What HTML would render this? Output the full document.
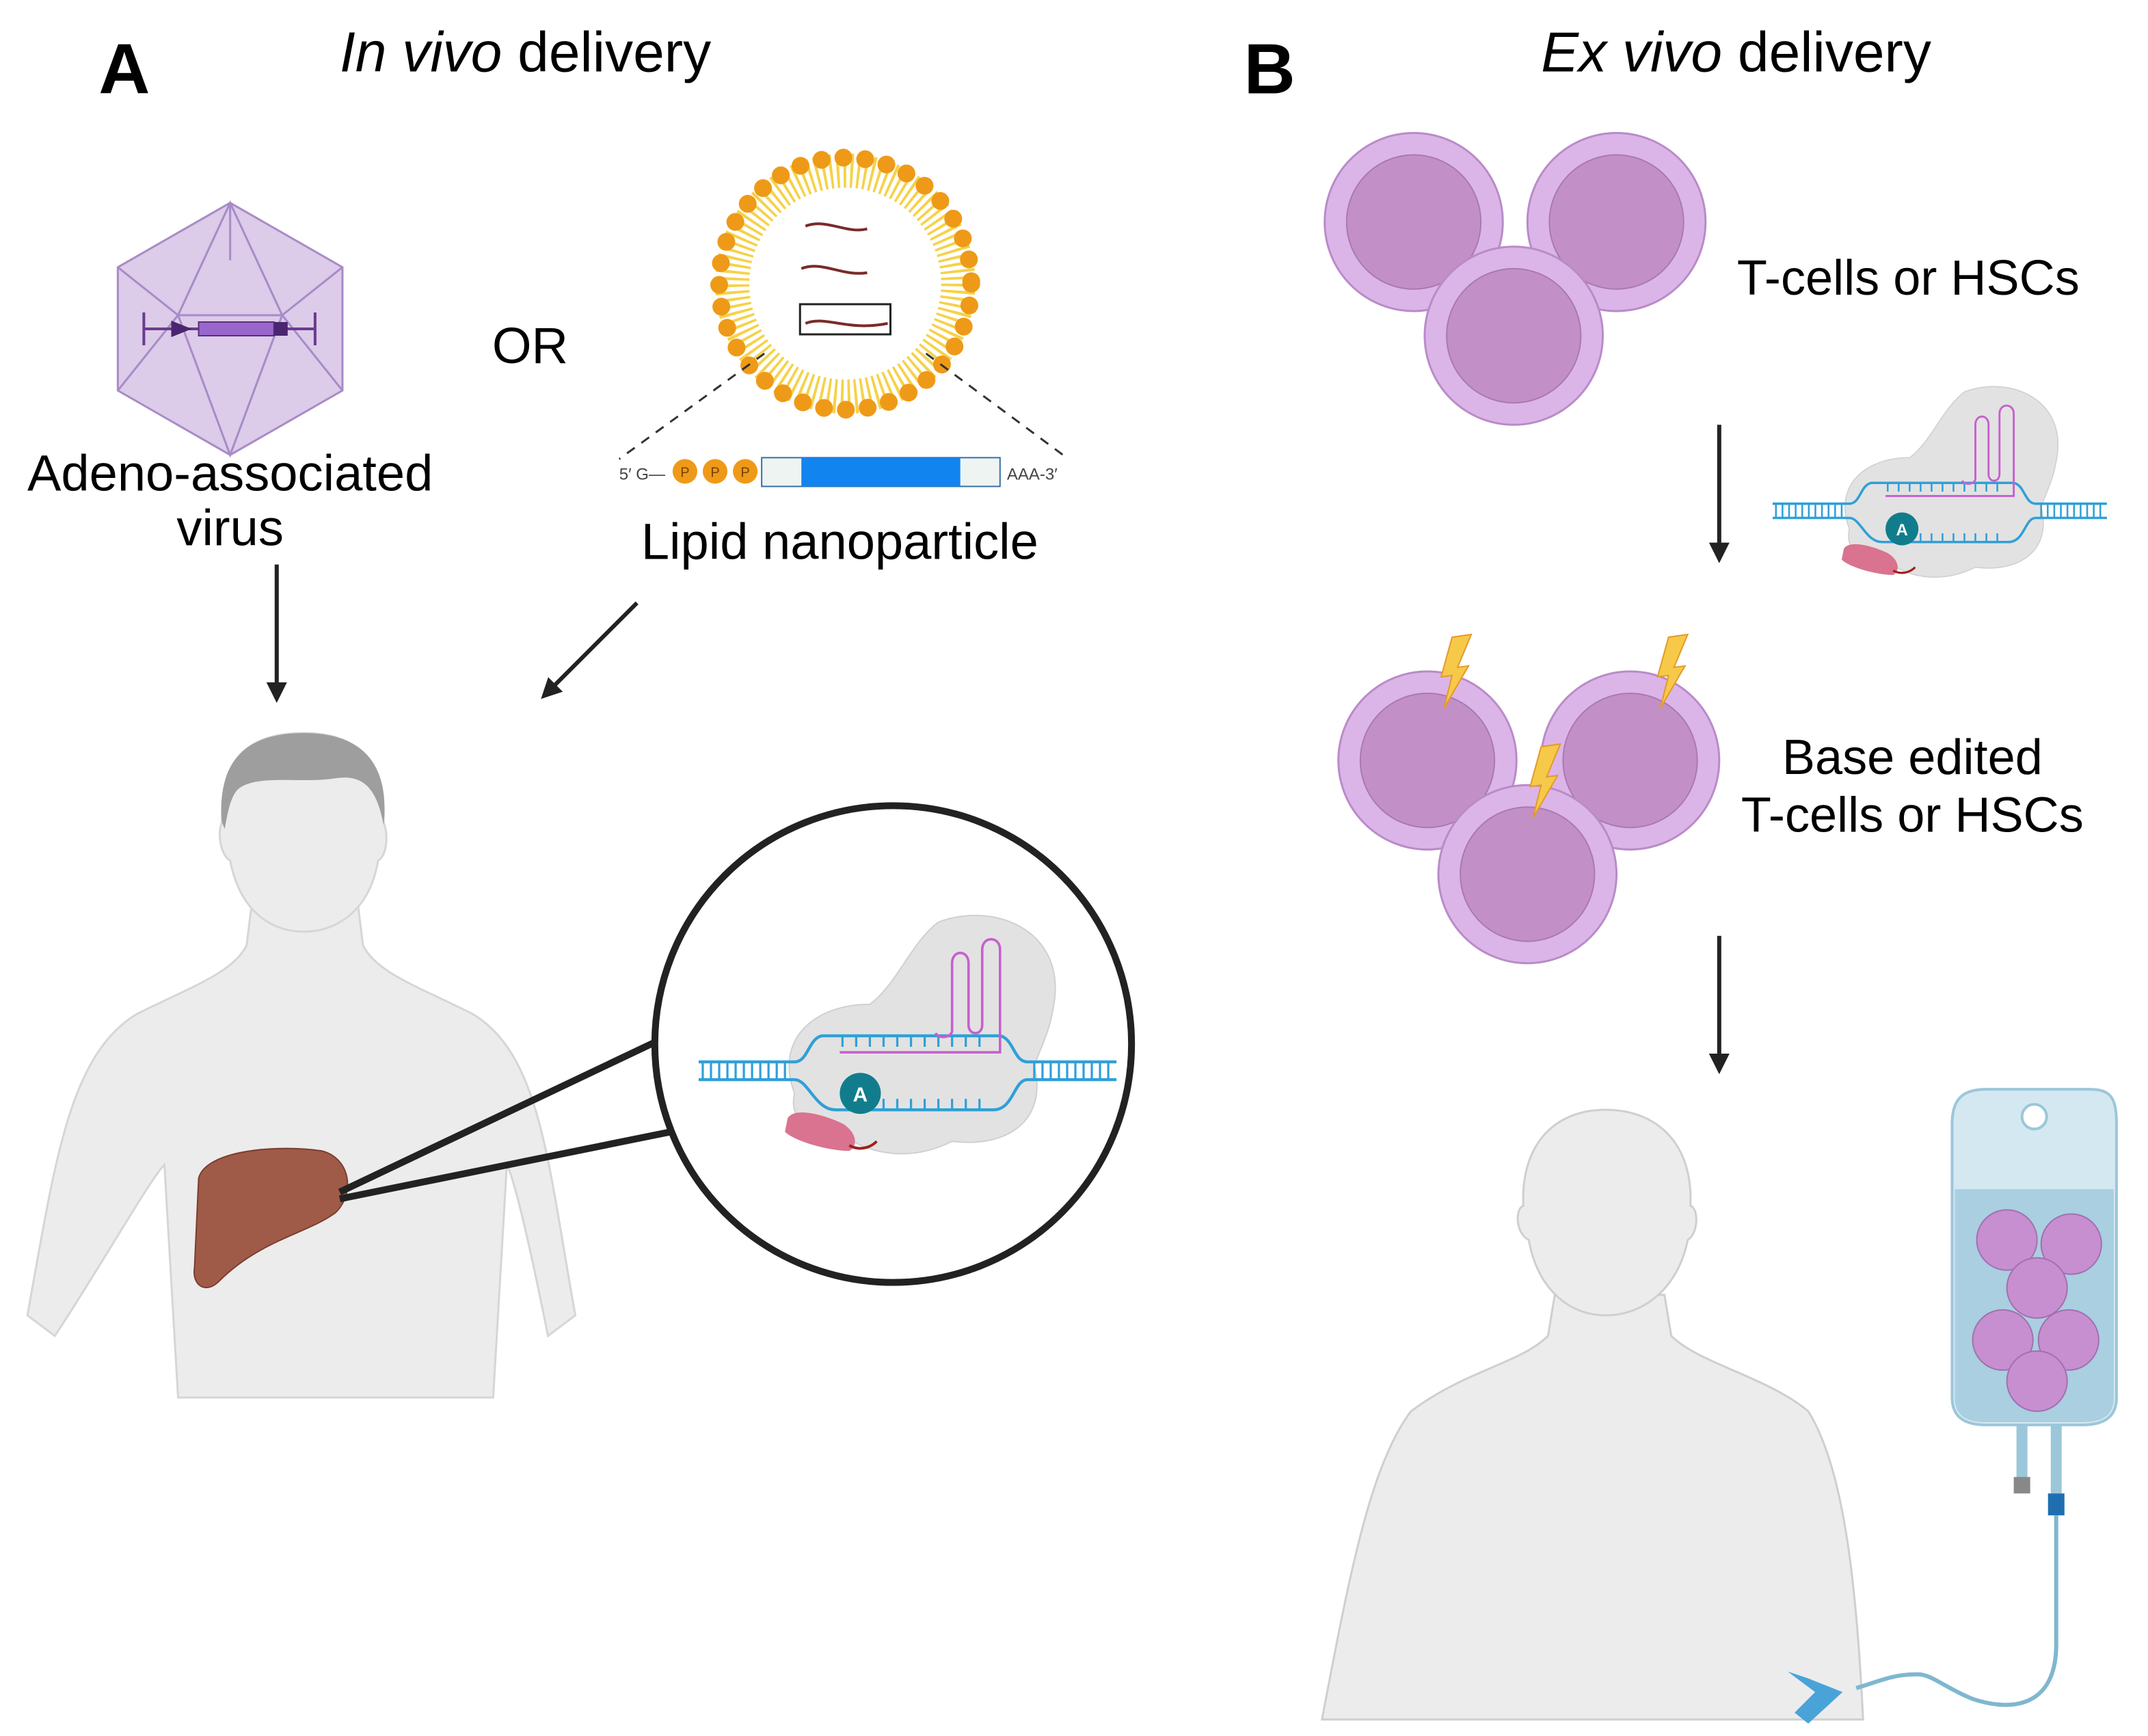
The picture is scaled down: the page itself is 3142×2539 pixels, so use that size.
<!DOCTYPE html>
<html><head><meta charset="utf-8"><style>
html,body{margin:0;padding:0;background:#fff}
svg{display:block}
text{font-family:"Liberation Sans",sans-serif}
</style></head><body>
<svg width="3142" height="2539" viewBox="0 0 1568 1267" xmlns="http://www.w3.org/2000/svg">
<defs>
<marker id="ah" viewBox="0 0 10 10" refX="8" refY="5" markerWidth="5" markerHeight="5" orient="auto"><path d="M0,0L10,5L0,10z" fill="#222"/></marker>
<g id="ed">
 <path d="M-75,20 C-90,-20 -60,-45 -20,-45 C0,-60 10,-90 30,-105 C70,-120 120,-100 115,-50 C112,-25 105,-15 100,0 C110,40 80,60 40,55 C10,70 -20,65 -40,50 C-60,55 -80,40 -75,20Z" fill="#e2e2e2" stroke="#d0d0d0"/>
 <g stroke="#2fa0d8" stroke-width="1.6">
  <path d="M-145,-3 H-75 C-65,-3 -65,-20 -55,-22 H75 C85,-20 85,-3 95,-3 H160" fill="none" stroke-width="2.2"/>
  <path d="M-145,10 H-75 C-65,10 -60,32 -45,32 H70 C85,32 85,10 95,10 H160" fill="none" stroke-width="2.2"/>
  <path d="M-142,-3v13M-136,-3v13M-130,-3v13M-124,-3v13M-118,-3v13M-112,-3v13M-106,-3v13M-100,-3v13M-94,-3v13M-88,-3v13M-82,-3v13M100,-3v13M106,-3v13M112,-3v13M118,-3v13M124,-3v13M130,-3v13M136,-3v13M142,-3v13M148,-3v13M154,-3v13M-40,-22v8M-30,-22v8M-20,-22v8M-10,-22v8M0,-22v8M10,-22v8M20,-22v8M30,-22v8M40,-22v8M50,-22v8M60,-22v8M-20,32v-8M-10,32v-8M0,32v-8M10,32v-8M20,32v-8M30,32v-8M40,32v-8M50,32v-8M60,32v-8"/>
 </g>
 <path d="M-42,-10 H75 V-85 C75,-95 62,-95 62,-85 V-30 C62,-22 52,-22 52,-30 V-75 C52,-85 40,-85 40,-75 V-25 C38,-20 30,-20 28,-24" fill="none" stroke="#c75fcf" stroke-width="1.8"/>
 <circle cx="-27" cy="20" r="15" fill="#117d8c"/>
 <text x="-27" y="26" font-size="15" font-weight="bold" fill="#fff" text-anchor="middle">A</text>
 <path d="M-80,38 C-75,30 -55,35 -40,42 C-30,48 -28,58 -35,62 C-50,62 -75,55 -82,48Z" fill="#d9738f"/>
 <path d="M-35,58 C-28,62 -20,60 -15,55" stroke="#a02020" stroke-width="2" fill="none"/>
</g>
<g id="cell"><circle r="65" fill="#dcb5e8" stroke="#b98bc8" stroke-width="1.5"/><circle r="49" fill="#c290c6" stroke="#a979b3" stroke-width="1"/></g>
<path id="bolt" d="M0,0 L14,-2 L4,22 L12,21 L-6,52 L0,28 L-8,29Z" fill="#f7c948" stroke="#e39a2a" stroke-width="1"/>
</defs>

<text x="72" y="68" font-size="52" font-weight="bold">A</text>
<text x="248" y="52" font-size="41"><tspan font-style="italic">In vivo</tspan> delivery</text>
<text x="908" y="68" font-size="52" font-weight="bold">B</text>
<text x="1125" y="52" font-size="41"><tspan font-style="italic">Ex vivo</tspan> delivery</text>

<g stroke="#a88bc6" stroke-width="1.5" fill="none">
 <polygon points="168,148 250,195 250,285 168,332 86,285 86,195" fill="#dccbe9"/>
 <path d="M168,148 L130,230 L168,332 L206,230Z M86,195 L130,230 L86,285 M250,195 L206,230 L250,285 M130,230 H206 M168,148 V190"/>
</g>
<g stroke="#6a3b8e" stroke-width="2" fill="none"><path d="M105,228v24M105,240H230M230,228v24"/></g>
<rect x="145" y="235" width="55" height="10" fill="#9966cc" stroke="#5a2f7e"/>
<path d="M125,234 L140,240 L125,246Z" fill="#4a2570"/>
<rect x="200" y="235" width="10" height="10" fill="#4a2570"/>
<text x="168" y="358" font-size="37" text-anchor="middle">Adeno-associated</text>
<text x="168" y="398" font-size="37" text-anchor="middle">virus</text>
<text x="387" y="265" font-size="37" text-anchor="middle">OR</text>

<circle cx="617" cy="207" r="82" fill="none" stroke="#f5d24a" stroke-width="26" stroke-dasharray="2 3"/>
<circle cx="617" cy="207" r="70" fill="#fff"/>
<circle cx="617" cy="207" r="92" fill="none" stroke="#ee9a18" stroke-width="13" stroke-dasharray="0 16" stroke-linecap="round"/>
<g stroke="#7a2a2a" stroke-width="2" fill="none">
 <path d="M588,165 c15,-6 30,6 45,2"/><path d="M585,196 c15,-6 30,6 48,3"/><path d="M588,236 c15,-6 30,6 60,0"/>
</g>
<rect x="584" y="222" width="66" height="22" fill="none" stroke="#222" stroke-width="1.5"/>
<path d="M558,258 L452,335 M676,258 L780,335" stroke="#333" stroke-width="1.5" stroke-dasharray="7 6"/>
<text x="452" y="350" font-size="12" fill="#444">5′ G—</text>
<circle cx="500" cy="344" r="9" fill="#ee9a18"/><circle cx="522" cy="344" r="9" fill="#ee9a18"/><circle cx="544" cy="344" r="9" fill="#ee9a18"/>
<text x="500" y="348" font-size="10" text-anchor="middle" fill="#7a4000">P</text><text x="522" y="348" font-size="10" text-anchor="middle" fill="#7a4000">P</text><text x="544" y="348" font-size="10" text-anchor="middle" fill="#7a4000">P</text>
<rect x="556" y="334" width="174" height="21" fill="#edf4f2" stroke="#3a6fa8" stroke-width="1"/>
<rect x="585" y="334" width="116" height="21" fill="#1184ef"/>
<text x="735" y="350" font-size="12" fill="#444">AAA-3′</text>
<text x="613" y="408" font-size="37" text-anchor="middle">Lipid nanoparticle</text>

<line x1="202" y1="412" x2="202" y2="510" stroke="#222" stroke-width="3" marker-end="url(#ah)"/>
<line x1="465" y1="440" x2="397" y2="508" stroke="#222" stroke-width="3" marker-end="url(#ah)"/>

<g fill="#ececec" stroke="#d6d6d6" stroke-width="1.5">
 <path d="M20,960 C40,850 50,770 100,740 C140,720 170,710 180,690 L185,650 L260,650 L265,690 C275,710 305,720 345,740 C395,770 400,850 420,960 L400,975 C385,900 375,860 370,850 L360,1020 H130 L120,850 C110,860 70,930 40,975Z"/>
 <path d="M162,600 C160,550 185,535 222,535 C260,535 282,555 280,600 C284,610 282,625 276,628 C270,665 245,680 222,680 C198,680 175,665 168,628 C162,625 158,610 162,600Z"/>
</g>
<path d="M162,600 C158,550 185,535 222,535 C262,535 285,555 280,602 C275,575 265,565 245,568 C220,572 190,565 175,575 C168,580 166,595 164,605Z" fill="#9e9e9e"/>
<path d="M145,860 C150,840 200,835 235,840 C255,845 260,870 245,885 C225,900 190,905 160,935 C150,945 140,938 142,925Z" fill="#a05a48" stroke="#7a3e30"/>
<line x1="248" y1="870" x2="490" y2="755" stroke="#222" stroke-width="5"/>
<line x1="248" y1="875" x2="490" y2="826" stroke="#222" stroke-width="5"/>
<circle cx="652" cy="762" r="174" fill="#fff" stroke="#222" stroke-width="5"/>
<use href="#ed" transform="translate(655,778)"/>

<use href="#cell" x="1032" y="162"/><use href="#cell" x="1180" y="162"/><use href="#cell" x="1105" y="245"/>
<text x="1268" y="215" font-size="36">T-cells or HSCs</text>
<line x1="1255" y1="310" x2="1255" y2="408" stroke="#222" stroke-width="3" marker-end="url(#ah)"/>
<use href="#ed" transform="translate(1410,370) scale(0.8)"/>

<use href="#cell" x="1042" y="555"/><use href="#cell" x="1190" y="555"/><use href="#cell" x="1115" y="638"/>
<use href="#bolt" x="1060" y="465"/><use href="#bolt" x="1218" y="465"/><use href="#bolt" x="1125" y="545"/>
<text x="1396" y="565" font-size="36" text-anchor="middle">Base edited</text>
<text x="1396" y="607" font-size="36" text-anchor="middle">T-cells or HSCs</text>
<line x1="1255" y1="683" x2="1255" y2="781" stroke="#222" stroke-width="3" marker-end="url(#ah)"/>

<g fill="#ececec" stroke="#cfcfcf" stroke-width="1.5">
 <path d="M965,1255 C985,1150 1000,1070 1030,1030 C1070,1000 1110,995 1130,975 L1135,945 L1215,945 L1220,975 C1240,995 1290,1005 1320,1030 C1345,1070 1355,1150 1360,1255Z"/>
 <path d="M1112,880 C1110,835 1135,810 1172,810 C1210,810 1236,835 1234,880 C1240,882 1240,900 1232,905 C1225,940 1200,960 1172,960 C1145,960 1122,940 1116,905 C1106,900 1106,882 1112,880Z"/>
</g>
<path d="M1425,820 C1425,800 1435,795 1450,795 H1525 C1540,795 1545,800 1545,820 V1020 C1545,1035 1535,1040 1520,1040 H1450 C1435,1040 1425,1035 1425,1020Z" fill="#d4e8f2" stroke="#9cc6da" stroke-width="2"/>
<circle cx="1485" cy="815" r="9" fill="#fff" stroke="#9cc6da" stroke-width="2"/>
<path d="M1427,868 H1543 V1020 C1543,1033 1535,1038 1520,1038 H1450 C1435,1038 1427,1033 1427,1020Z" fill="#a9cfe0"/>
<circle cx="1465" cy="905" r="22" fill="#c78fcf" stroke="#a270b0"/><circle cx="1512" cy="908" r="22" fill="#c78fcf" stroke="#a270b0"/>
<circle cx="1487" cy="940" r="22" fill="#c78fcf" stroke="#a270b0"/><circle cx="1462" cy="978" r="22" fill="#c78fcf" stroke="#a270b0"/>
<circle cx="1510" cy="978" r="22" fill="#c78fcf" stroke="#a270b0"/><circle cx="1487" cy="1008" r="22" fill="#c78fcf" stroke="#a270b0"/>
<rect x="1472" y="1040" width="8" height="40" fill="#9cc6da"/><rect x="1497" y="1040" width="8" height="50" fill="#9cc6da"/>
<rect x="1470" y="1078" width="12" height="12" fill="#888"/>
<rect x="1495" y="1090" width="12" height="16" fill="#1f6fb0"/>
<path d="M1501,1106 V1200 C1501,1245 1470,1250 1440,1240 C1420,1232 1410,1222 1400,1222 C1380,1222 1370,1228 1355,1232" fill="none" stroke="#7fb7cf" stroke-width="3"/>
<path d="M1320,1225 L1345,1235 L1320,1258 L1310,1250 L1325,1235 L1305,1220Z" fill="#4aa3d8"/>
</svg>
</body></html>
